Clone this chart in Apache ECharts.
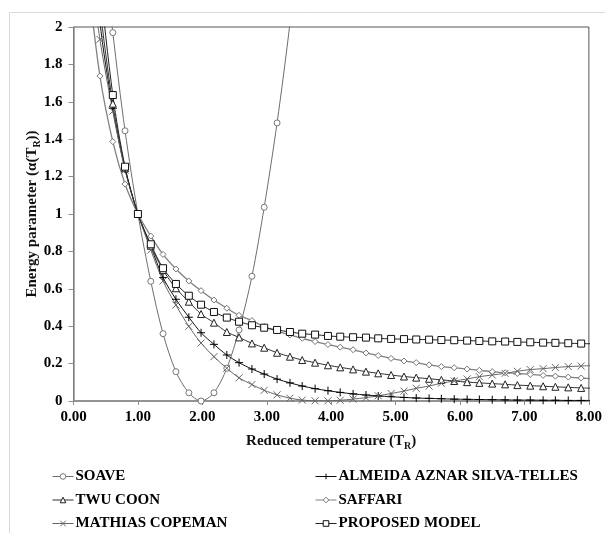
<!DOCTYPE html>
<html>
<head>
<meta charset="utf-8">
<script src="https://cdn.jsdelivr.net/npm/echarts@6/dist/echarts.min.js"></script>
<style>
  html, body { margin: 0; padding: 0; background: #fff; }
  #chart { width: 605px; height: 533px; }
</style>
</head>
<body>
<div id="chart"></div>
<script>
// reduced temperature of each computed point
const trValues = [0.21, 0.41, 0.61, 0.80, 1.00, 1.20, 1.39, 1.59, 1.79, 1.98, 2.18, 2.38, 2.57, 2.77,
  2.96, 3.16, 3.36, 3.55, 3.75, 3.95, 4.14, 4.34, 4.54, 4.73, 4.93, 5.13, 5.32, 5.52, 5.71, 5.91,
  6.11, 6.30, 6.50, 6.70, 6.89, 7.09, 7.29, 7.48, 7.68, 7.88, 8.07]

const soave = [3.3, 2.6, 1.97, 1.445, 1.0, 0.64, 0.36, 0.157, 0.044, 0.0, 0.044, 0.175, 0.38, 0.667,
  1.036, 1.487, 2.02, 2.63]

const almeida = [2.9, 2.03, 1.565, 1.24, 1.0, 0.825, 0.66, 0.544, 0.448, 0.365, 0.303, 0.246, 0.205, 0.171,
  0.144, 0.117, 0.097, 0.08, 0.066, 0.055, 0.046, 0.038, 0.032, 0.027, 0.023, 0.019, 0.016, 0.014, 0.012, 0.010,
  0.009, 0.008, 0.007, 0.006, 0.005, 0.005, 0.004, 0.004, 0.003, 0.003, 0.003]

const twuCoon = [3.0, 2.12, 1.59, 1.245, 1.0, 0.83, 0.70, 0.603, 0.531, 0.465, 0.419, 0.369, 0.34, 0.308,
  0.285, 0.258, 0.237, 0.219, 0.205, 0.191, 0.18, 0.169, 0.157, 0.148, 0.139, 0.131, 0.125, 0.119, 0.113, 0.107,
  0.101, 0.097, 0.093, 0.089, 0.085, 0.082, 0.079, 0.076, 0.073, 0.070, 0.068]

const saffari = [2.3, 1.738, 1.387, 1.16, 1.0, 0.882, 0.784, 0.706, 0.642, 0.59, 0.54, 0.496, 0.458, 0.43,
  0.398, 0.374, 0.353, 0.335, 0.318, 0.302, 0.288, 0.274, 0.257, 0.243, 0.228, 0.214, 0.205, 0.193, 0.184, 0.178,
  0.171, 0.164, 0.157, 0.151, 0.147, 0.142, 0.137, 0.133, 0.128, 0.123, 0.119]

const mathiasCopeman = [2.45, 1.934, 1.55, 1.235, 1.0, 0.807, 0.642, 0.513, 0.399, 0.31, 0.237, 0.175, 0.124, 0.088,
  0.057, 0.033, 0.015, 0.005, 0.001, 0.001, 0.004, 0.010, 0.018, 0.028, 0.040, 0.053, 0.068, 0.080, 0.095, 0.107,
  0.118, 0.130, 0.139, 0.148, 0.159, 0.168, 0.173, 0.179, 0.184, 0.187, 0.19]

const proposed = [3.3, 2.27, 1.636, 1.253, 1.0, 0.838, 0.71, 0.626, 0.563, 0.515, 0.476, 0.446, 0.424, 0.405,
  0.392, 0.38, 0.369, 0.36, 0.355, 0.348, 0.344, 0.341, 0.339, 0.335, 0.332, 0.331, 0.329, 0.328, 0.326, 0.325,
  0.323, 0.321, 0.319, 0.318, 0.316, 0.314, 0.312, 0.311, 0.309, 0.307, 0.306]

const xTicks = [0, 1, 2, 3, 4, 5, 6, 7, 8]

const FONT = '"Liberation Serif", "Times New Roman", serif'
const PLUS = 'path://M5,0L5,10M0,5L10,5'
const CROSS = 'path://M0,0L10,10M10,0L0,10'

const pairs = ys => ys.map((y, i) => [trValues[i], y])

const markStyle = (symbol, markColor) => ({
  color: symbol.startsWith('path') ? 'rgba(0,0,0,0)' : '#fff',
  borderColor: markColor,
  borderWidth: 1,
})

const seriesDefs = [
  { name: 'SOAVE', ys: soave, symbol: 'circle', line: '#6e6e6e', mark: '#777', size: 6 },
  { name: 'ALMEIDA AZNAR SILVA-TELLES', ys: almeida, symbol: PLUS, line: '#111', mark: '#000', size: 8 },
  { name: 'TWU COON', ys: twuCoon, symbol: 'triangle', line: '#333', mark: '#222', size: 7 },
  { name: 'SAFFARI', ys: saffari, symbol: 'diamond', line: '#808080', mark: '#777', size: 6, width: 1.3 },
  { name: 'MATHIAS COPEMAN', ys: mathiasCopeman, symbol: CROSS, line: '#666', mark: '#666', size: 7 },
  { name: 'PROPOSED MODEL', ys: proposed, symbol: 'rect', line: '#222', mark: '#111', size: 7 },
]

const makeSeries = d => ({
  name: d.name,
  type: 'line',
  data: pairs(d.ys),
  smooth: 0.3,
  clip: true,
  symbol: d.symbol,
  symbolSize: d.size,
  showAllSymbol: true,
  lineStyle: { color: d.line, width: d.width || 1 },
  itemStyle: markStyle(d.symbol, d.mark),
  emphasis: { disabled: true },
})

const legendItem = name => {
  const d = seriesDefs.find(s => s.name === name)
  return { name, itemStyle: markStyle(d.symbol, d.mark), lineStyle: { color: d.line, width: 1 } }
}

const chart = echarts.init(document.getElementById('chart'))

const nameRich = {
  a: { fontFamily: FONT, fontWeight: 'bold', fontSize: 15, color: '#111', lineHeight: 20 },
  s: { fontFamily: FONT, fontWeight: 'bold', fontSize: 10, color: '#111', lineHeight: 20, verticalAlign: 'bottom' },
}

const legendBase = {
  orient: 'vertical',
  top: 469,
  height: 90,
  padding: 0,
  itemWidth: 21,
  itemHeight: 7,
  itemGap: 8.5,
  selectedMode: false,
  textStyle: { fontFamily: FONT, fontWeight: 'bold', fontSize: 15, color: '#000', padding: [0, 0, 0, -3] },
}

const option = {
  backgroundColor: '#fff',
  animation: false,
  graphic: [{
    type: 'rect',
    shape: { x: 9.5, y: 12.5, width: 620, height: 560 },
    style: { fill: 'none', stroke: '#d9d9d9', lineWidth: 1 },
    silent: true,
  }],
  grid: {
    left: 73.5,
    right: 13,
    top: 27,
    bottom: 132,
    show: true,
    borderColor: '#555',
    borderWidth: 1,
  },
  legend: [
    { ...legendBase, left: 52, data: ['SOAVE', 'TWU COON', 'MATHIAS COPEMAN'].map(legendItem) },
    { ...legendBase, left: 315, data: ['ALMEIDA AZNAR SILVA-TELLES', 'SAFFARI', 'PROPOSED MODEL'].map(legendItem) },
  ],
  xAxis: {
    type: 'value',
    min: xTicks[0],
    max: xTicks[xTicks.length - 1],
    interval: 1,
    name: '{a|Reduced temperature (T}{s|R}{a|)}',
    nameLocation: 'middle',
    nameGap: 30,
    nameMoveOverlap: false,
    nameTextStyle: { rich: nameRich },
    axisLine: { lineStyle: { color: '#8c8c8c', width: 1.5 } },
    axisTick: { length: 4, lineStyle: { color: '#8c8c8c' } },
    axisLabel: {
      margin: 9,
      fontFamily: FONT,
      fontWeight: 'bold',
      fontSize: 15,
      color: '#000',
      formatter: v => v.toFixed(2),
    },
    splitLine: { show: false },
  },
  yAxis: {
    type: 'value',
    min: 0,
    max: 2,
    interval: 0.2,
    name: '{a|Energy parameter (α(T}{s|R}{a|))}',
    nameLocation: 'middle',
    nameRotate: 90,
    nameGap: 31,
    nameMoveOverlap: false,
    nameTextStyle: { rich: nameRich },
    axisLine: { show: true, lineStyle: { color: '#8c8c8c', width: 1.5 } },
    axisTick: { show: true, length: 5, lineStyle: { color: '#8c8c8c' } },
    axisLabel: {
      margin: 11,
      fontFamily: FONT,
      fontWeight: 'bold',
      fontSize: 15,
      color: '#000',
    },
    splitLine: { show: false },
  },
  series: seriesDefs.map(makeSeries),
}

chart.setOption(option)
</script>
</body>
</html>
